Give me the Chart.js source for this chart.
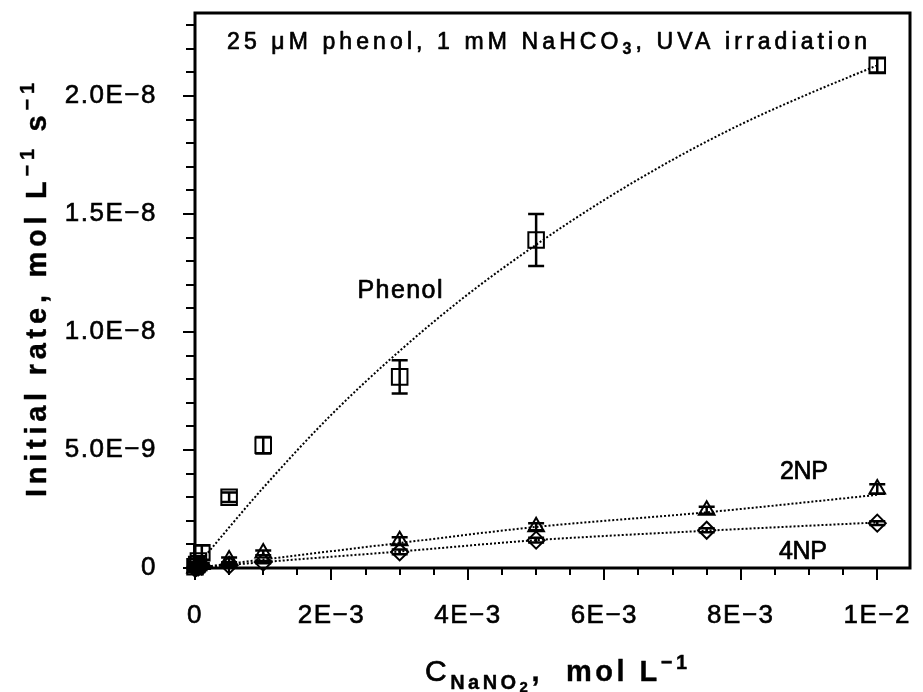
<!DOCTYPE html>
<html><head><meta charset="utf-8">
<script src="https://cdn.jsdelivr.net/npm/chart.js@4/dist/chart.umd.min.js"></script>
<style>html,body{margin:0;padding:0;background:#fff}#wrap{width:923px;height:692px}</style>
</head><body><div id="wrap"><canvas id="c" width="923" height="692"></canvas></div>
<script>
// ---- tick labels ----
const xTickValues = [0, 0.002, 0.004, 0.006, 0.008, 0.01];
const xTickLabels = ['0', '2E\u22123', '4E\u22123', '6E\u22123', '8E\u22123', '1E\u22122'];
const yTickValues = [0, 5e-9, 1e-8, 1.5e-8, 2e-8];
const yTickLabels = ['0', '5.0E\u22129', '1.0E\u22128', '1.5E\u22128', '2.0E\u22128'];

// ---- measured points (mol/L, mol/L/s) ----
const phenolX   = [0, 0.000025, 0.00005, 0.0001, 0.0005, 0.001, 0.003, 0.005, 0.01];
const phenolY   = [0.05e-9, 0.15e-9, 0.3e-9, 0.65e-9, 3.0e-9, 5.2e-9, 8.1e-9, 13.9e-9, 21.3e-9];
const phenolErr = [0.1e-9, 0.1e-9, 0.2e-9, 0.3e-9, 0.2e-9, 0.35e-9, 0.7e-9, 1.1e-9, 0.3e-9];

const np2X   = [0, 0.000025, 0.00005, 0.0001, 0.0005, 0.001, 0.003, 0.005, 0.0075, 0.01];
const np2Y   = [0, 0.05e-9, 0.1e-9, 0.15e-9, 0.34e-9, 0.64e-9, 1.15e-9, 1.75e-9, 2.45e-9, 3.35e-9];
const np2Err = [0.05e-9, 0.05e-9, 0.05e-9, 0.05e-9, 0.1e-9, 0.1e-9, 0.15e-9, 0.15e-9, 0.15e-9, 0.2e-9];

const np4X   = [0, 0.000025, 0.00005, 0.0001, 0.0005, 0.001, 0.003, 0.005, 0.0075, 0.01];
const np4Y   = [0, 0.03e-9, 0.05e-9, 0.08e-9, 0.12e-9, 0.25e-9, 0.68e-9, 1.18e-9, 1.6e-9, 1.9e-9];
const np4Err = [0.03e-9, 0.03e-9, 0.03e-9, 0.03e-9, 0.05e-9, 0.05e-9, 0.1e-9, 0.1e-9, 0.08e-9, 0.08e-9];

// ---- fitted curves ----
const phenolFitX = [0, 0.001, 0.002, 0.003, 0.004, 0.005, 0.006, 0.007, 0.008, 0.009, 0.01];
const phenolFitY = [0, 3.4e-9, 6.5e-9, 9.2e-9, 11.6e-9, 13.7e-9, 15.6e-9, 17.3e-9, 18.8e-9, 20.1e-9, 21.3e-9];
const nitroFitX  = [0, 0.001, 0.003, 0.005, 0.0075, 0.01];
const np2FitY    = [0, 0.36e-9, 1.06e-9, 1.74e-9, 2.36e-9, 3.1e-9];
const np4FitY    = [0, 0.25e-9, 0.7e-9, 1.18e-9, 1.58e-9, 1.93e-9];

function pts(xs, ys) { return xs.map((x, i) => ({ x: x, y: ys[i] })); }

const FONT = "'Liberation Sans', Arial, Helvetica, sans-serif";

const markerBase = { showLine: false, borderColor: '#000', backgroundColor: 'rgba(0,0,0,0)', borderWidth: 2, clip: false };
const fitBase = { showLine: true, pointRadius: 0, pointHoverRadius: 0, borderColor: '#000', borderWidth: 2,
  borderDash: [2, 2], fill: false, clip: false, cubicInterpolationMode: 'monotone', backgroundColor: 'rgba(0,0,0,0)' };

function drawRich(ctx, parts, cx, baseY, target, rot) {
  ctx.save();
  ctx.translate(cx, baseY);
  if (rot) ctx.rotate(rot);
  ctx.textBaseline = 'alphabetic';
  ctx.textAlign = 'left';
  ctx.fillStyle = '#000';
  ctx.strokeStyle = '#000';
  ctx.lineJoin = 'round';
  let w = 0, n = 0;
  const widths = [];
  parts.forEach(p => {
    ctx.font = (p.w || 'normal') + ' ' + p.s + 'px ' + FONT;
    ctx.letterSpacing = '0px';
    const m = ctx.measureText(p.t).width;
    widths.push(m);
    w += m; n += [...p.t].length;
  });
  const ls = target ? (target - w) / Math.max(n - 1, 1) : 0;
  let x = -(w + ls * (n - 1)) / 2;
  parts.forEach((p, i) => {
    ctx.font = (p.w || 'normal') + ' ' + p.s + 'px ' + FONT;
    ctx.letterSpacing = ls + 'px';
    ctx.fillText(p.t, x, p.dy || 0);
    ctx.lineWidth = p.w === 'bold' ? 0.4 : 0.7;
    ctx.strokeText(p.t, x, p.dy || 0);
    x += widths[i] + ls * [...p.t].length;
  });
  ctx.restore();
}

const decor = {
  id: 'decor',
  beforeDraw(chart) { chart.ctx.letterSpacing = '1.5px'; },
  afterDatasetsDraw(chart) {
    const ctx = chart.ctx, xs = chart.scales.x, ys = chart.scales.y;
    ctx.save();
    ctx.strokeStyle = '#000';
    ctx.lineWidth = 2.5;
    chart.data.datasets.forEach(ds => {
      if (!ds.errors) return;
      ds.data.forEach((p, i) => {
        const e = ds.errors[i];
        const px = xs.getPixelForValue(p.x);
        const y1 = ys.getPixelForValue(p.y - e), y2 = ys.getPixelForValue(p.y + e);
        ctx.beginPath();
        ctx.moveTo(px, y1); ctx.lineTo(px, y2);
        ctx.moveTo(px - 8, y1); ctx.lineTo(px + 8, y1);
        ctx.moveTo(px - 8, y2); ctx.lineTo(px + 8, y2);
        ctx.stroke();
      });
    });
    ctx.restore();
  },
  afterDraw(chart) {
    const ctx = chart.ctx, a = chart.chartArea, xs = chart.scales.x, ys = chart.scales.y;
    ctx.save();
    ctx.letterSpacing = '0px';
    ctx.strokeStyle = '#000';
    // frame
    ctx.lineWidth = 3;
    ctx.strokeRect(a.left, a.top, a.right - a.left, a.bottom - a.top);
    // ticks
    ctx.lineWidth = 2;
    ctx.beginPath();
    for (let k = 0; k <= 23; k++) {
      const py = Math.round(ys.getPixelForValue(k * 1e-9));
      const len = (k % 5 === 0) ? 12 : 9;
      ctx.moveTo(a.left, py); ctx.lineTo(a.left - len, py);
    }
    for (let k = 0; k <= 20; k++) {
      const px = Math.round(xs.getPixelForValue(k * 0.0005));
      const len = (k % 4 === 0) ? 12 : 7;
      ctx.moveTo(px, a.bottom); ctx.lineTo(px, a.bottom + len);
    }
    ctx.stroke();
    ctx.restore();

    // annotations
    drawRich(ctx, [
      { t: '25 \u03bcM phenol, 1 mM NaHCO', s: 23 },
      { t: '3', s: 16, w: 'bold', dy: 5 },
      { t: ', UVA irradiation', s: 23 }
    ], 547, 49, 640);
    drawRich(ctx, [{ t: 'Phenol', s: 25 }], 400, 298, 85);
    drawRich(ctx, [{ t: '2NP', s: 25 }], 804, 479, 48);
    drawRich(ctx, [{ t: '4NP', s: 25 }], 803, 559, 48);
    // x title
    drawRich(ctx, [
      { t: 'C', s: 30 },
      { t: 'NaNO', s: 20, w: 'bold', dy: 8 },
      { t: '2', s: 15, w: 'bold', dy: 11 },
      { t: ',  mol L', s: 29, w: 'bold' },
      { t: '\u22121', s: 20, w: 'bold', dy: -12 }
    ], 556, 681, 262);
    // y title
    drawRich(ctx, [
      { t: 'Initial rate, mol L', s: 29, w: 'bold' },
      { t: '\u22121', s: 20, w: 'bold', dy: -12 },
      { t: ' s', s: 29, w: 'bold' },
      { t: '\u22121', s: 20, w: 'bold', dy: -12 }
    ], 46, 290, 414, -Math.PI / 2);
  }
};

new Chart(document.getElementById('c'), {
  type: 'scatter',
  data: {
    datasets: [
      Object.assign({}, fitBase, { label: 'Phenol fit', data: pts(phenolFitX, phenolFitY) }),
      Object.assign({}, fitBase, { label: '2NP fit', data: pts(nitroFitX, np2FitY) }),
      Object.assign({}, fitBase, { label: '4NP fit', data: pts(nitroFitX, np4FitY) }),
      Object.assign({}, markerBase, { label: 'Phenol', data: pts(phenolX, phenolY), pointStyle: 'rect', pointRadius: 11, errors: phenolErr }),
      Object.assign({}, markerBase, { label: '2NP', data: pts(np2X, np2Y), pointStyle: 'triangle', pointRadius: 9, errors: np2Err }),
      Object.assign({}, markerBase, { label: '4NP', data: pts(np4X, np4Y), pointStyle: 'rectRot', pointRadius: 8.5, errors: np4Err })
    ]
  },
  options: {
    responsive: false,
    animation: false,
    devicePixelRatio: 1,
    layout: { padding: { top: 13, right: 3, left: 0, bottom: 0 } },
    plugins: { legend: { display: false }, tooltip: { enabled: false }, title: { display: false } },
    scales: {
      x: {
        type: 'linear', min: 0, max: 0.01048,
        grid: { display: false }, border: { display: false },
        ticks: {
          color: '#000', font: { family: FONT, size: 26 }, padding: 24, maxRotation: 0, autoSkip: false,
          textStrokeColor: '#000', textStrokeWidth: 0.6,
          callback: (v, i) => xTickLabels[i]
        },
        afterBuildTicks: s => { s.ticks = xTickValues.map(v => ({ value: v })); },
        afterFit: s => { s.height = 124; s.paddingLeft = 0; s.paddingRight = 0; }
      },
      y: {
        type: 'linear', min: 0, max: 2.352e-8,
        grid: { display: false }, border: { display: false },
        ticks: {
          color: '#000', font: { family: FONT, size: 26 }, padding: 30, autoSkip: false,
          textStrokeColor: '#000', textStrokeWidth: 0.6,
          callback: (v, i) => yTickLabels[i]
        },
        afterBuildTicks: s => { s.ticks = yTickValues.map(v => ({ value: v })); },
        afterFit: s => { s.width = 195; s.paddingTop = 0; s.paddingBottom = 0; }
      }
    }
  },
  plugins: [decor]
});
</script>
</body></html>
